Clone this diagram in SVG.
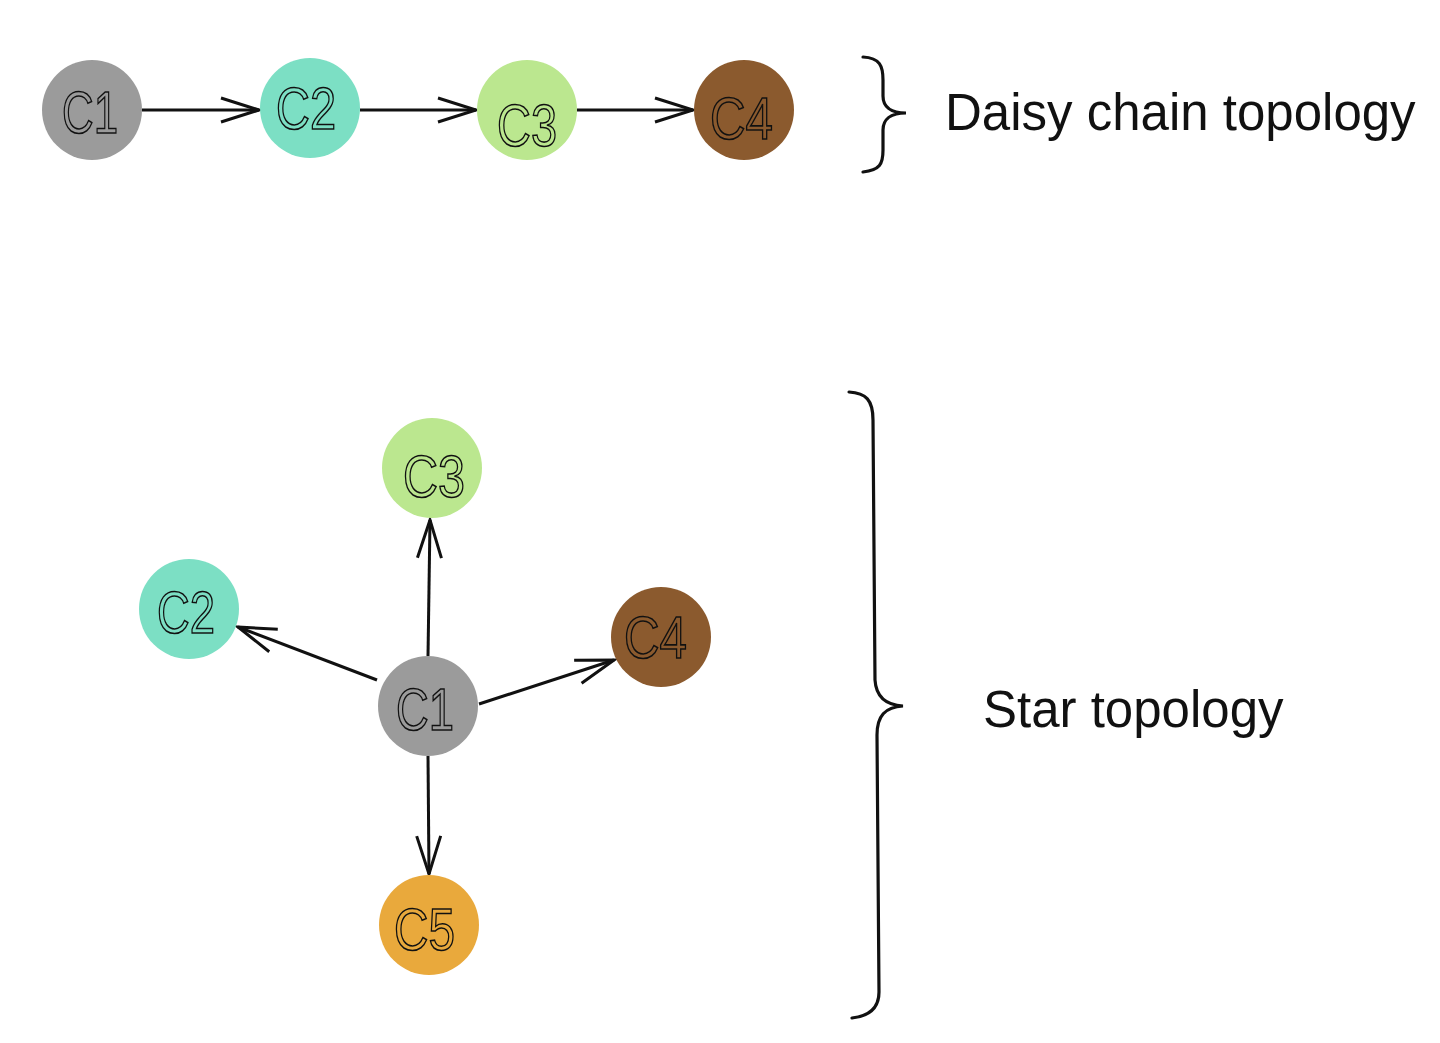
<svg xmlns="http://www.w3.org/2000/svg" width="1440" height="1043" viewBox="0 0 1440 1043">
<style>
.lbl{font-family:"Liberation Sans",Arial,sans-serif;font-size:60px;fill:none;stroke:#111;stroke-width:1.6}
.title{font-family:"Liberation Sans",Arial,sans-serif;font-size:51px;fill:#111}
.edge{stroke:#111;stroke-width:3;fill:none;marker-end:url(#arr)}
.brace{stroke:#111;stroke-width:3.2;fill:none;stroke-linecap:round}
.c1{fill:#9b9b9b}.c2{fill:#7cdfc4}.c3{fill:#bbe78f}.c4{fill:#8b5a2e}.c5{fill:#e9a93c}
</style>
<defs>
<marker id="arr" markerUnits="userSpaceOnUse" markerWidth="46" markerHeight="30" refX="40" refY="14" orient="auto" overflow="visible">
<path d="M2,2 L40,14 L2,26" fill="none" stroke="#111" stroke-width="3" stroke-linejoin="miter"/>
</marker>
</defs>
<rect width="1440" height="1043" fill="#ffffff"/>
<g id="connectors">
<line class="edge" x1="142" y1="110" x2="259" y2="110"/>
<line class="edge" x1="360" y1="110" x2="476" y2="110"/>
<line class="edge" x1="577" y1="110" x2="693" y2="110"/>
<line class="edge" x1="428" y1="656" x2="430" y2="520"/>
<line class="edge" x1="377" y1="680" x2="238" y2="627"/>
<line class="edge" x1="479" y1="704" x2="614" y2="660"/>
<line class="edge" x1="428" y1="756" x2="429" y2="874"/>
</g>
<g id="chain-C1"><circle class="c1" cx="92" cy="110" r="50"/><text class="lbl" x="62" y="133" textLength="56" lengthAdjust="spacingAndGlyphs">C1</text></g>
<g id="chain-C2"><circle class="c2" cx="310" cy="108" r="50"/><text class="lbl" x="276" y="129" textLength="60" lengthAdjust="spacingAndGlyphs">C2</text></g>
<g id="chain-C3"><circle class="c3" cx="527" cy="110" r="50"/><text class="lbl" x="497" y="146" textLength="60" lengthAdjust="spacingAndGlyphs">C3</text></g>
<g id="chain-C4"><circle class="c4" cx="744" cy="110" r="50"/><text class="lbl" x="710" y="139" textLength="63" lengthAdjust="spacingAndGlyphs">C4</text></g>
<g id="daisy-label">
<path class="brace" d="M863,57 C880,58 883,66 883,80 L883,96 C883,106 890,113 906,113 C890,113 883,120 883,130 L883,150 C883,164 880,170 863,172"/>
<text class="title" x="945" y="130">Daisy chain topology</text>
</g>
<g id="star-C3"><circle class="c3" cx="432" cy="468" r="50"/><text class="lbl" x="403" y="497" textLength="62" lengthAdjust="spacingAndGlyphs">C3</text></g>
<g id="star-C2"><circle class="c2" cx="189" cy="609" r="50"/><text class="lbl" x="157" y="633" textLength="58" lengthAdjust="spacingAndGlyphs">C2</text></g>
<g id="star-C4"><circle class="c4" cx="661" cy="637" r="50"/><text class="lbl" x="624" y="658" textLength="63" lengthAdjust="spacingAndGlyphs">C4</text></g>
<g id="star-C1"><circle class="c1" cx="428" cy="706" r="50"/><text class="lbl" x="396" y="730" textLength="58" lengthAdjust="spacingAndGlyphs">C1</text></g>
<g id="star-C5"><circle class="c5" cx="429" cy="925" r="50"/><text class="lbl" x="394" y="950" textLength="61" lengthAdjust="spacingAndGlyphs">C5</text></g>
<g id="star-label">
<path class="brace" d="M849,392 C866,393 873,400 873,420 L875,680 C876,696 885,705 903,706 C885,707 877,716 877,735 L879,992 C879,1008 870,1016 852,1018"/>
<text class="title" x="983" y="727">Star topology</text>
</g>
</svg>
